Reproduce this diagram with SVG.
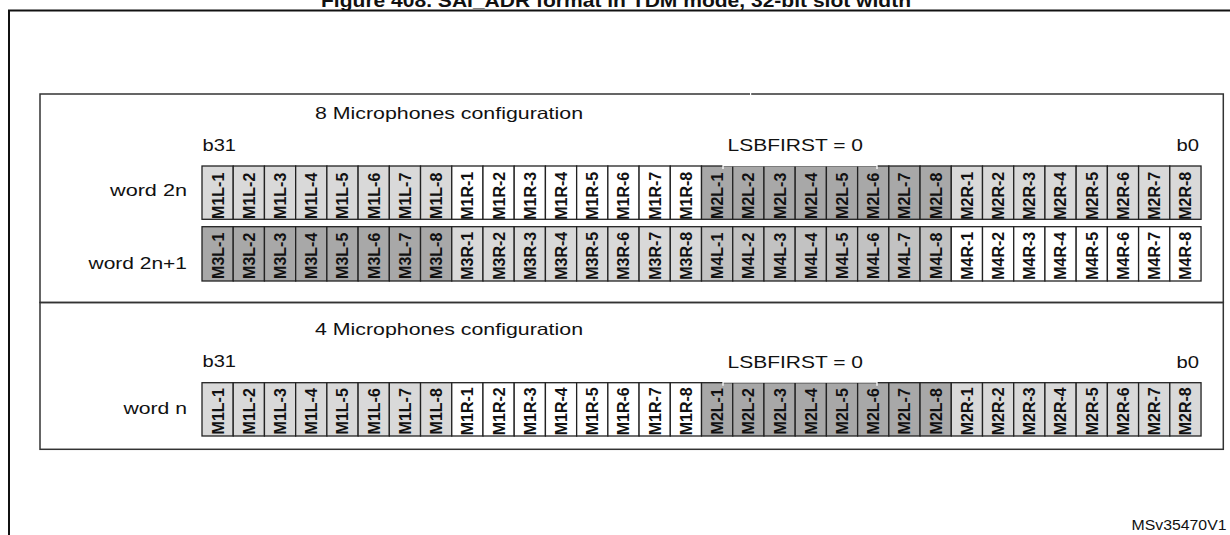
<svg xmlns="http://www.w3.org/2000/svg" width="1230" height="535" viewBox="0 0 1230 535">
<style>
text{font-family:"Liberation Sans",Arial,sans-serif;fill:#111}
.title{font-size:18px;font-weight:bold;text-anchor:middle}
.lbl{font-size:16.5px}
.r{text-anchor:end}
.c{font-size:16px;font-weight:bold;text-anchor:middle}
.cell{stroke:#222;stroke-width:1.3}
.w{fill:#ffffff}.l{fill:#d9d9d9}.m{fill:#c2c2c2}.d{fill:#a8a8a8}
.sec{fill:none;stroke:#333;stroke-width:1.5}
.id{font-size:14.5px;text-anchor:end}
</style>
<rect width="1230" height="535" fill="#fff"/>
<text class="title" x="616" y="7" textLength="590" lengthAdjust="spacingAndGlyphs">Figure 408. SAI_ADR format in TDM mode, 32-bit slot width</text>
<path d="M9,545 V10.5 H1240" fill="none" stroke="#111" stroke-width="2"/>
<g id="sec8">
<rect class="sec" x="40" y="94" width="1183.3" height="208.5"/>
<rect x="750" y="93" width="1.2" height="2" fill="#fff"/>
<text class="lbl" x="315" y="118.5" textLength="268" lengthAdjust="spacingAndGlyphs">8 Microphones configuration</text>
<text class="lbl" x="202.5" y="151" textLength="33.5" lengthAdjust="spacingAndGlyphs">b31</text>
<text class="lbl" x="727.5" y="151" textLength="135.5" lengthAdjust="spacingAndGlyphs">LSBFIRST = 0</text>
<text class="lbl r" x="1199" y="151" textLength="22.5" lengthAdjust="spacingAndGlyphs">b0</text>
<text class="lbl r" x="187" y="196" textLength="77" lengthAdjust="spacingAndGlyphs">word 2n</text>
<text class="lbl r" x="187" y="268.5" textLength="98.5" lengthAdjust="spacingAndGlyphs">word 2n+1</text>
</g>
<g id="sec4">
<rect class="sec" x="40" y="302.5" width="1183.3" height="146.8"/>
<text class="lbl" x="315" y="334.5" textLength="268" lengthAdjust="spacingAndGlyphs">4 Microphones configuration</text>
<text class="lbl" x="202.5" y="367" textLength="33.5" lengthAdjust="spacingAndGlyphs">b31</text>
<text class="lbl" x="727.5" y="367.5" textLength="135.5" lengthAdjust="spacingAndGlyphs">LSBFIRST = 0</text>
<text class="lbl r" x="1199" y="367.5" textLength="22.5" lengthAdjust="spacingAndGlyphs">b0</text>
<text class="lbl r" x="187" y="414" textLength="63.5" lengthAdjust="spacingAndGlyphs">word n</text>
</g>
<g id="word2n">
<g id="r1c0"><rect class="cell l" x="202" y="166" width="31.22" height="53.3"/><text class="c" transform="translate(223.5,195.8) rotate(-90)">M1L-1</text></g>
<g id="r1c1"><rect class="cell l" x="233.22" y="166" width="31.22" height="53.3"/><text class="c" transform="translate(254.7,195.8) rotate(-90)">M1L-2</text></g>
<g id="r1c2"><rect class="cell l" x="264.44" y="166" width="31.22" height="53.3"/><text class="c" transform="translate(286,195.8) rotate(-90)">M1L-3</text></g>
<g id="r1c3"><rect class="cell l" x="295.66" y="166" width="31.22" height="53.3"/><text class="c" transform="translate(317.2,195.8) rotate(-90)">M1L-4</text></g>
<g id="r1c4"><rect class="cell l" x="326.88" y="166" width="31.22" height="53.3"/><text class="c" transform="translate(348.4,195.8) rotate(-90)">M1L-5</text></g>
<g id="r1c5"><rect class="cell l" x="358.1" y="166" width="31.22" height="53.3"/><text class="c" transform="translate(379.6,195.8) rotate(-90)">M1L-6</text></g>
<g id="r1c6"><rect class="cell l" x="389.32" y="166" width="31.22" height="53.3"/><text class="c" transform="translate(410.8,195.8) rotate(-90)">M1L-7</text></g>
<g id="r1c7"><rect class="cell l" x="420.54" y="166" width="31.22" height="53.3"/><text class="c" transform="translate(442.1,195.8) rotate(-90)">M1L-8</text></g>
<g id="r1c8"><rect class="cell w" x="451.76" y="166" width="31.22" height="53.3"/><text class="c" transform="translate(473.3,195.8) rotate(-90)">M1R-1</text></g>
<g id="r1c9"><rect class="cell w" x="482.98" y="166" width="31.22" height="53.3"/><text class="c" transform="translate(504.5,195.8) rotate(-90)">M1R-2</text></g>
<g id="r1c10"><rect class="cell w" x="514.2" y="166" width="31.22" height="53.3"/><text class="c" transform="translate(535.7,195.8) rotate(-90)">M1R-3</text></g>
<g id="r1c11"><rect class="cell w" x="545.42" y="166" width="31.22" height="53.3"/><text class="c" transform="translate(566.9,195.8) rotate(-90)">M1R-4</text></g>
<g id="r1c12"><rect class="cell w" x="576.64" y="166" width="31.22" height="53.3"/><text class="c" transform="translate(598.1,195.8) rotate(-90)">M1R-5</text></g>
<g id="r1c13"><rect class="cell w" x="607.86" y="166" width="31.22" height="53.3"/><text class="c" transform="translate(629.4,195.8) rotate(-90)">M1R-6</text></g>
<g id="r1c14"><rect class="cell w" x="639.08" y="166" width="31.22" height="53.3"/><text class="c" transform="translate(660.6,195.8) rotate(-90)">M1R-7</text></g>
<g id="r1c15"><rect class="cell w" x="670.3" y="166" width="31.22" height="53.3"/><text class="c" transform="translate(691.8,195.8) rotate(-90)">M1R-8</text></g>
<g id="r1c16"><rect class="cell d" x="701.52" y="166" width="31.22" height="53.3"/><text class="c" transform="translate(723,195.8) rotate(-90)">M2L-1</text></g>
<g id="r1c17"><rect class="cell d" x="732.74" y="166" width="31.22" height="53.3"/><text class="c" transform="translate(754.2,195.8) rotate(-90)">M2L-2</text></g>
<g id="r1c18"><rect class="cell d" x="763.96" y="166" width="31.22" height="53.3"/><text class="c" transform="translate(785.5,195.8) rotate(-90)">M2L-3</text></g>
<g id="r1c19"><rect class="cell d" x="795.18" y="166" width="31.22" height="53.3"/><text class="c" transform="translate(816.7,195.8) rotate(-90)">M2L-4</text></g>
<g id="r1c20"><rect class="cell d" x="826.4" y="166" width="31.22" height="53.3"/><text class="c" transform="translate(847.9,195.8) rotate(-90)">M2L-5</text></g>
<g id="r1c21"><rect class="cell d" x="857.62" y="166" width="31.22" height="53.3"/><text class="c" transform="translate(879.1,195.8) rotate(-90)">M2L-6</text></g>
<g id="r1c22"><rect class="cell d" x="888.84" y="166" width="31.22" height="53.3"/><text class="c" transform="translate(910.3,195.8) rotate(-90)">M2L-7</text></g>
<g id="r1c23"><rect class="cell d" x="920.06" y="166" width="31.22" height="53.3"/><text class="c" transform="translate(941.6,195.8) rotate(-90)">M2L-8</text></g>
<g id="r1c24"><rect class="cell l" x="951.28" y="166" width="31.22" height="53.3"/><text class="c" transform="translate(972.8,195.8) rotate(-90)">M2R-1</text></g>
<g id="r1c25"><rect class="cell l" x="982.5" y="166" width="31.22" height="53.3"/><text class="c" transform="translate(1004,195.8) rotate(-90)">M2R-2</text></g>
<g id="r1c26"><rect class="cell l" x="1013.72" y="166" width="31.22" height="53.3"/><text class="c" transform="translate(1035.2,195.8) rotate(-90)">M2R-3</text></g>
<g id="r1c27"><rect class="cell l" x="1044.94" y="166" width="31.22" height="53.3"/><text class="c" transform="translate(1066.4,195.8) rotate(-90)">M2R-4</text></g>
<g id="r1c28"><rect class="cell l" x="1076.16" y="166" width="31.22" height="53.3"/><text class="c" transform="translate(1097.7,195.8) rotate(-90)">M2R-5</text></g>
<g id="r1c29"><rect class="cell l" x="1107.38" y="166" width="31.22" height="53.3"/><text class="c" transform="translate(1128.9,195.8) rotate(-90)">M2R-6</text></g>
<g id="r1c30"><rect class="cell l" x="1138.6" y="166" width="31.22" height="53.3"/><text class="c" transform="translate(1160.1,195.8) rotate(-90)">M2R-7</text></g>
<g id="r1c31"><rect class="cell l" x="1169.82" y="166" width="31.22" height="53.3"/><text class="c" transform="translate(1191.3,195.8) rotate(-90)">M2R-8</text></g>
<path d="M723,169 V165.5 H877 V169" fill="none" stroke="#fff" stroke-width="1.3"/>
</g>
<g id="word2n1">
<g id="r2c0"><rect class="cell d" x="202" y="226.7" width="31.22" height="54.3"/><text class="c" transform="translate(223.5,255.8) rotate(-90)">M3L-1</text></g>
<g id="r2c1"><rect class="cell d" x="233.22" y="226.7" width="31.22" height="54.3"/><text class="c" transform="translate(254.7,255.8) rotate(-90)">M3L-2</text></g>
<g id="r2c2"><rect class="cell d" x="264.44" y="226.7" width="31.22" height="54.3"/><text class="c" transform="translate(286,255.8) rotate(-90)">M3L-3</text></g>
<g id="r2c3"><rect class="cell d" x="295.66" y="226.7" width="31.22" height="54.3"/><text class="c" transform="translate(317.2,255.8) rotate(-90)">M3L-4</text></g>
<g id="r2c4"><rect class="cell d" x="326.88" y="226.7" width="31.22" height="54.3"/><text class="c" transform="translate(348.4,255.8) rotate(-90)">M3L-5</text></g>
<g id="r2c5"><rect class="cell d" x="358.1" y="226.7" width="31.22" height="54.3"/><text class="c" transform="translate(379.6,255.8) rotate(-90)">M3L-6</text></g>
<g id="r2c6"><rect class="cell d" x="389.32" y="226.7" width="31.22" height="54.3"/><text class="c" transform="translate(410.8,255.8) rotate(-90)">M3L-7</text></g>
<g id="r2c7"><rect class="cell d" x="420.54" y="226.7" width="31.22" height="54.3"/><text class="c" transform="translate(442.1,255.8) rotate(-90)">M3L-8</text></g>
<g id="r2c8"><rect class="cell l" x="451.76" y="226.7" width="31.22" height="54.3"/><text class="c" transform="translate(473.3,255.8) rotate(-90)">M3R-1</text></g>
<g id="r2c9"><rect class="cell l" x="482.98" y="226.7" width="31.22" height="54.3"/><text class="c" transform="translate(504.5,255.8) rotate(-90)">M3R-2</text></g>
<g id="r2c10"><rect class="cell l" x="514.2" y="226.7" width="31.22" height="54.3"/><text class="c" transform="translate(535.7,255.8) rotate(-90)">M3R-3</text></g>
<g id="r2c11"><rect class="cell l" x="545.42" y="226.7" width="31.22" height="54.3"/><text class="c" transform="translate(566.9,255.8) rotate(-90)">M3R-4</text></g>
<g id="r2c12"><rect class="cell l" x="576.64" y="226.7" width="31.22" height="54.3"/><text class="c" transform="translate(598.1,255.8) rotate(-90)">M3R-5</text></g>
<g id="r2c13"><rect class="cell l" x="607.86" y="226.7" width="31.22" height="54.3"/><text class="c" transform="translate(629.4,255.8) rotate(-90)">M3R-6</text></g>
<g id="r2c14"><rect class="cell l" x="639.08" y="226.7" width="31.22" height="54.3"/><text class="c" transform="translate(660.6,255.8) rotate(-90)">M3R-7</text></g>
<g id="r2c15"><rect class="cell l" x="670.3" y="226.7" width="31.22" height="54.3"/><text class="c" transform="translate(691.8,255.8) rotate(-90)">M3R-8</text></g>
<g id="r2c16"><rect class="cell m" x="701.52" y="226.7" width="31.22" height="54.3"/><text class="c" transform="translate(723,255.8) rotate(-90)">M4L-1</text></g>
<g id="r2c17"><rect class="cell m" x="732.74" y="226.7" width="31.22" height="54.3"/><text class="c" transform="translate(754.2,255.8) rotate(-90)">M4L-2</text></g>
<g id="r2c18"><rect class="cell m" x="763.96" y="226.7" width="31.22" height="54.3"/><text class="c" transform="translate(785.5,255.8) rotate(-90)">M4L-3</text></g>
<g id="r2c19"><rect class="cell m" x="795.18" y="226.7" width="31.22" height="54.3"/><text class="c" transform="translate(816.7,255.8) rotate(-90)">M4L-4</text></g>
<g id="r2c20"><rect class="cell m" x="826.4" y="226.7" width="31.22" height="54.3"/><text class="c" transform="translate(847.9,255.8) rotate(-90)">M4L-5</text></g>
<g id="r2c21"><rect class="cell m" x="857.62" y="226.7" width="31.22" height="54.3"/><text class="c" transform="translate(879.1,255.8) rotate(-90)">M4L-6</text></g>
<g id="r2c22"><rect class="cell m" x="888.84" y="226.7" width="31.22" height="54.3"/><text class="c" transform="translate(910.3,255.8) rotate(-90)">M4L-7</text></g>
<g id="r2c23"><rect class="cell m" x="920.06" y="226.7" width="31.22" height="54.3"/><text class="c" transform="translate(941.6,255.8) rotate(-90)">M4L-8</text></g>
<g id="r2c24"><rect class="cell w" x="951.28" y="226.7" width="31.22" height="54.3"/><text class="c" transform="translate(972.8,255.8) rotate(-90)">M4R-1</text></g>
<g id="r2c25"><rect class="cell w" x="982.5" y="226.7" width="31.22" height="54.3"/><text class="c" transform="translate(1004,255.8) rotate(-90)">M4R-2</text></g>
<g id="r2c26"><rect class="cell w" x="1013.72" y="226.7" width="31.22" height="54.3"/><text class="c" transform="translate(1035.2,255.8) rotate(-90)">M4R-3</text></g>
<g id="r2c27"><rect class="cell w" x="1044.94" y="226.7" width="31.22" height="54.3"/><text class="c" transform="translate(1066.4,255.8) rotate(-90)">M4R-4</text></g>
<g id="r2c28"><rect class="cell w" x="1076.16" y="226.7" width="31.22" height="54.3"/><text class="c" transform="translate(1097.7,255.8) rotate(-90)">M4R-5</text></g>
<g id="r2c29"><rect class="cell w" x="1107.38" y="226.7" width="31.22" height="54.3"/><text class="c" transform="translate(1128.9,255.8) rotate(-90)">M4R-6</text></g>
<g id="r2c30"><rect class="cell w" x="1138.6" y="226.7" width="31.22" height="54.3"/><text class="c" transform="translate(1160.1,255.8) rotate(-90)">M4R-7</text></g>
<g id="r2c31"><rect class="cell w" x="1169.82" y="226.7" width="31.22" height="54.3"/><text class="c" transform="translate(1191.3,255.8) rotate(-90)">M4R-8</text></g>
</g>
<g id="wordn">
<g id="r3c0"><rect class="cell l" x="202" y="382.7" width="31.22" height="53.3"/><text class="c" transform="translate(223.5,411.3) rotate(-90)">M1L-1</text></g>
<g id="r3c1"><rect class="cell l" x="233.22" y="382.7" width="31.22" height="53.3"/><text class="c" transform="translate(254.7,411.3) rotate(-90)">M1L-2</text></g>
<g id="r3c2"><rect class="cell l" x="264.44" y="382.7" width="31.22" height="53.3"/><text class="c" transform="translate(286,411.3) rotate(-90)">M1L-3</text></g>
<g id="r3c3"><rect class="cell l" x="295.66" y="382.7" width="31.22" height="53.3"/><text class="c" transform="translate(317.2,411.3) rotate(-90)">M1L-4</text></g>
<g id="r3c4"><rect class="cell l" x="326.88" y="382.7" width="31.22" height="53.3"/><text class="c" transform="translate(348.4,411.3) rotate(-90)">M1L-5</text></g>
<g id="r3c5"><rect class="cell l" x="358.1" y="382.7" width="31.22" height="53.3"/><text class="c" transform="translate(379.6,411.3) rotate(-90)">M1L-6</text></g>
<g id="r3c6"><rect class="cell l" x="389.32" y="382.7" width="31.22" height="53.3"/><text class="c" transform="translate(410.8,411.3) rotate(-90)">M1L-7</text></g>
<g id="r3c7"><rect class="cell l" x="420.54" y="382.7" width="31.22" height="53.3"/><text class="c" transform="translate(442.1,411.3) rotate(-90)">M1L-8</text></g>
<g id="r3c8"><rect class="cell w" x="451.76" y="382.7" width="31.22" height="53.3"/><text class="c" transform="translate(473.3,411.3) rotate(-90)">M1R-1</text></g>
<g id="r3c9"><rect class="cell w" x="482.98" y="382.7" width="31.22" height="53.3"/><text class="c" transform="translate(504.5,411.3) rotate(-90)">M1R-2</text></g>
<g id="r3c10"><rect class="cell w" x="514.2" y="382.7" width="31.22" height="53.3"/><text class="c" transform="translate(535.7,411.3) rotate(-90)">M1R-3</text></g>
<g id="r3c11"><rect class="cell w" x="545.42" y="382.7" width="31.22" height="53.3"/><text class="c" transform="translate(566.9,411.3) rotate(-90)">M1R-4</text></g>
<g id="r3c12"><rect class="cell w" x="576.64" y="382.7" width="31.22" height="53.3"/><text class="c" transform="translate(598.1,411.3) rotate(-90)">M1R-5</text></g>
<g id="r3c13"><rect class="cell w" x="607.86" y="382.7" width="31.22" height="53.3"/><text class="c" transform="translate(629.4,411.3) rotate(-90)">M1R-6</text></g>
<g id="r3c14"><rect class="cell w" x="639.08" y="382.7" width="31.22" height="53.3"/><text class="c" transform="translate(660.6,411.3) rotate(-90)">M1R-7</text></g>
<g id="r3c15"><rect class="cell w" x="670.3" y="382.7" width="31.22" height="53.3"/><text class="c" transform="translate(691.8,411.3) rotate(-90)">M1R-8</text></g>
<g id="r3c16"><rect class="cell d" x="701.52" y="382.7" width="31.22" height="53.3"/><text class="c" transform="translate(723,411.3) rotate(-90)">M2L-1</text></g>
<g id="r3c17"><rect class="cell d" x="732.74" y="382.7" width="31.22" height="53.3"/><text class="c" transform="translate(754.2,411.3) rotate(-90)">M2L-2</text></g>
<g id="r3c18"><rect class="cell d" x="763.96" y="382.7" width="31.22" height="53.3"/><text class="c" transform="translate(785.5,411.3) rotate(-90)">M2L-3</text></g>
<g id="r3c19"><rect class="cell d" x="795.18" y="382.7" width="31.22" height="53.3"/><text class="c" transform="translate(816.7,411.3) rotate(-90)">M2L-4</text></g>
<g id="r3c20"><rect class="cell d" x="826.4" y="382.7" width="31.22" height="53.3"/><text class="c" transform="translate(847.9,411.3) rotate(-90)">M2L-5</text></g>
<g id="r3c21"><rect class="cell d" x="857.62" y="382.7" width="31.22" height="53.3"/><text class="c" transform="translate(879.1,411.3) rotate(-90)">M2L-6</text></g>
<g id="r3c22"><rect class="cell d" x="888.84" y="382.7" width="31.22" height="53.3"/><text class="c" transform="translate(910.3,411.3) rotate(-90)">M2L-7</text></g>
<g id="r3c23"><rect class="cell d" x="920.06" y="382.7" width="31.22" height="53.3"/><text class="c" transform="translate(941.6,411.3) rotate(-90)">M2L-8</text></g>
<g id="r3c24"><rect class="cell l" x="951.28" y="382.7" width="31.22" height="53.3"/><text class="c" transform="translate(972.8,411.3) rotate(-90)">M2R-1</text></g>
<g id="r3c25"><rect class="cell l" x="982.5" y="382.7" width="31.22" height="53.3"/><text class="c" transform="translate(1004,411.3) rotate(-90)">M2R-2</text></g>
<g id="r3c26"><rect class="cell l" x="1013.72" y="382.7" width="31.22" height="53.3"/><text class="c" transform="translate(1035.2,411.3) rotate(-90)">M2R-3</text></g>
<g id="r3c27"><rect class="cell l" x="1044.94" y="382.7" width="31.22" height="53.3"/><text class="c" transform="translate(1066.4,411.3) rotate(-90)">M2R-4</text></g>
<g id="r3c28"><rect class="cell l" x="1076.16" y="382.7" width="31.22" height="53.3"/><text class="c" transform="translate(1097.7,411.3) rotate(-90)">M2R-5</text></g>
<g id="r3c29"><rect class="cell l" x="1107.38" y="382.7" width="31.22" height="53.3"/><text class="c" transform="translate(1128.9,411.3) rotate(-90)">M2R-6</text></g>
<g id="r3c30"><rect class="cell l" x="1138.6" y="382.7" width="31.22" height="53.3"/><text class="c" transform="translate(1160.1,411.3) rotate(-90)">M2R-7</text></g>
<g id="r3c31"><rect class="cell l" x="1169.82" y="382.7" width="31.22" height="53.3"/><text class="c" transform="translate(1191.3,411.3) rotate(-90)">M2R-8</text></g>
<path d="M723,385.7 V382.2 H877 V385.7" fill="none" stroke="#fff" stroke-width="1.3"/>
</g>
<g id="connectors"></g>
<text class="id" x="1226.5" y="530" textLength="95" lengthAdjust="spacingAndGlyphs">MSv35470V1</text>
</svg>
